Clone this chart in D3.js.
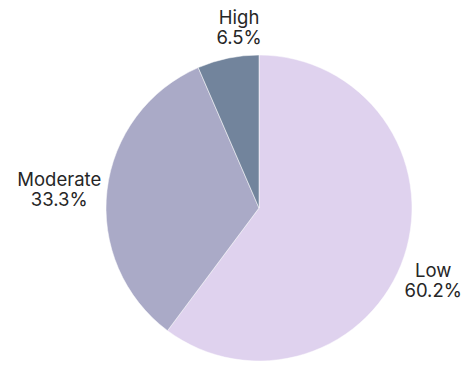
<!DOCTYPE html>
<html lang="en">
<head>
    <meta charset="UTF-8">
    <title>Pie chart</title>
    <script src="https://cdnjs.cloudflare.com/ajax/libs/d3/7.8.5/d3.min.js"></script>
    <style>
        body { margin: 0; background: #fff; }
    </style>
</head>
<body>
    <div id="chart"></div>
    <script>
        var categories = ["Low", "Moderate", "High"];
        var values = [60.2, 33.3, 6.5];
        var colors = ["#dfd2ee", "#aaaac7", "#72849c"];

        // small hand tweaks so labels sit where the original put them
        var labelNudge = { "Low": [-7, 12], "Moderate": [0, 4], "High": [17, -3] };

        var w = 468, h = 366;
        var cx = 259, cy = 208, r = 153;

        var svg = d3.select("#chart").append("svg")
            .attr("width", w)
            .attr("height", h);

        var data = categories.map(function(c, i) { return { name: c, value: values[i], color: colors[i] }; });

        var pie = d3.pie().sort(null).value(function(d) { return d.value; });
        var arc = d3.arc().innerRadius(0).outerRadius(r);
        var arcs = pie(data);

        var g = svg.append("g").attr("transform", "translate(" + cx + "," + cy + ")");

        g.selectAll("path")
            .data(arcs)
            .enter()
            .append("path")
            .attr("d", arc)
            .attr("fill", function(d) { return d.data.color; })
            .attr("stroke", "#fff")
            .attr("stroke-width", 0.5);

        // labels: two lines, box pushed just outside the circle along the mid-angle
        var labels = g.selectAll("text.lbl")
            .data(arcs)
            .enter()
            .append("text")
            .attr("class", "lbl")
            .attr("font-family", "Inter, sans-serif")
            .attr("font-size", "18.5px")
            .attr("fill", "#262626")
            .attr("text-anchor", "middle");

        labels.append("tspan").attr("x", 0).attr("y", 0).text(function(d) { return d.data.name; });
        labels.append("tspan").attr("x", 0).attr("y", 20).text(function(d) { return d.data.value.toFixed(1) + "%"; });

        labels.each(function(d) {
            var bb = this.getBBox();
            var a = (d.startAngle + d.endAngle) / 2;
            var sx = Math.sin(a), sy = -Math.cos(a);
            var dist = r + 4 + (bb.width / 2) * Math.abs(sx) + (bb.height / 2) * Math.abs(sy);
            var nud = labelNudge[d.data.name] || [0, 0];
            var tx = sx * dist - (bb.x + bb.width / 2) + nud[0];
            var ty = sy * dist - (bb.y + bb.height / 2) + nud[1];
            d3.select(this).attr("transform", "translate(" + tx + "," + ty + ")");
        });
    </script>
</body>
</html>
